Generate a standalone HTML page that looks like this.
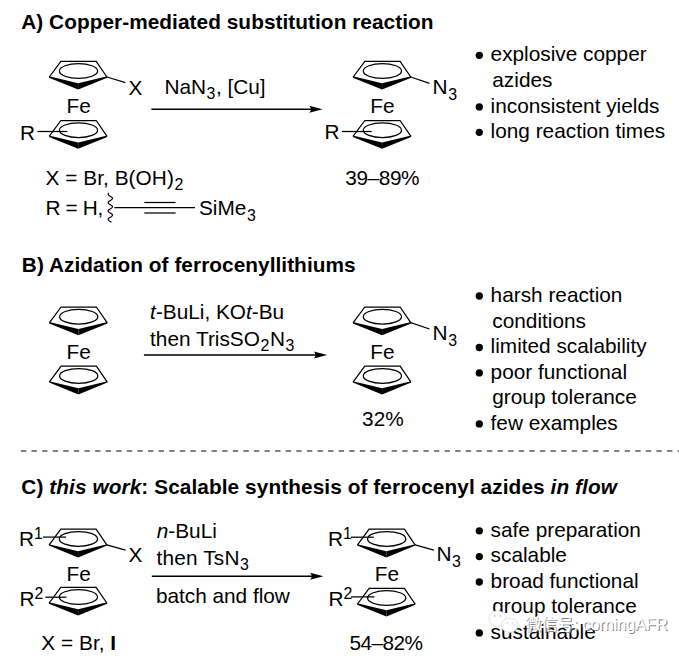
<!DOCTYPE html>
<html><head><meta charset="utf-8"><title>Ferrocenyl azides</title>
<style>
html,body{margin:0;padding:0;background:#fff;}
svg{display:block;}
svg text{font-family:"Liberation Sans","Noto Sans CJK SC",sans-serif;fill:#000;}
</style></head><body>
<svg width="679" height="665" viewBox="0 0 679 665">
<rect width="679" height="665" fill="#fff"/>
<text x="21.2" y="28.8" font-size="20.8" font-weight="bold" textLength="412.3" lengthAdjust="spacing">A) Copper-mediated substitution reaction</text>
<polyline points="49.3,77.0 60.9,61.3 96.2,61.3 106.9,77.0" fill="none" stroke="#000" stroke-width="1.25" stroke-linejoin="miter"/>
<polygon points="49.0,76.3 78.2,83.3 78.2,89.6 49.0,77.7" fill="#000"/>
<polygon points="107.2,76.3 78.2,83.3 78.2,89.6 107.2,77.7" fill="#000"/>
<ellipse cx="78.5" cy="71.0" rx="19.1" ry="7.4" fill="none" stroke="#000" stroke-width="1.25"/>
<polyline points="49.3,136.2 60.9,120.5 96.2,120.5 106.9,136.2" fill="none" stroke="#000" stroke-width="1.25" stroke-linejoin="miter"/>
<polygon points="49.0,135.5 78.2,142.5 78.2,148.8 49.0,136.9" fill="#000"/>
<polygon points="107.2,135.5 78.2,142.5 78.2,148.8 107.2,136.9" fill="#000"/>
<ellipse cx="78.5" cy="130.2" rx="19.1" ry="7.4" fill="none" stroke="#000" stroke-width="1.25"/>
<line x1="106.9" y1="77" x2="125.4" y2="82.7" stroke="#000" stroke-width="1.25"/>
<text x="128.5" y="94.5" font-size="20.8">X</text>
<text x="66.6" y="113.4" font-size="20.8">Fe</text>
<text x="20.1" y="140.0" font-size="20.8">R</text>
<line x1="37.4" y1="131.5" x2="67.4" y2="131.5" stroke="#000" stroke-width="1.25"/>
<text x="164.4" y="94.4" font-size="20.8">NaN<tspan font-size="15.9" dy="5.0" dx="0.5">3</tspan><tspan dy="-5.0" dx="0.7" font-size="20.8">&#8203;</tspan>,<tspan dx="-0.2"> [Cu]</tspan></text>
<line x1="151.4" y1="109.3" x2="316.6" y2="109.3" stroke="#000" stroke-width="1.45"/>
<path d="M322.6,109.3 L309.3,105.85 Q312.6,109.3 309.3,112.75 Z" fill="#000"/>
<polyline points="353.2,77.0 364.8,61.3 400.1,61.3 410.8,77.0" fill="none" stroke="#000" stroke-width="1.25" stroke-linejoin="miter"/>
<polygon points="352.9,76.3 382.1,83.3 382.1,89.6 352.9,77.7" fill="#000"/>
<polygon points="411.1,76.3 382.1,83.3 382.1,89.6 411.1,77.7" fill="#000"/>
<ellipse cx="382.4" cy="71.0" rx="19.1" ry="7.4" fill="none" stroke="#000" stroke-width="1.25"/>
<polyline points="353.2,136.2 364.8,120.5 400.1,120.5 410.8,136.2" fill="none" stroke="#000" stroke-width="1.25" stroke-linejoin="miter"/>
<polygon points="352.9,135.5 382.1,142.5 382.1,148.8 352.9,136.9" fill="#000"/>
<polygon points="411.1,135.5 382.1,142.5 382.1,148.8 411.1,136.9" fill="#000"/>
<ellipse cx="382.4" cy="130.2" rx="19.1" ry="7.4" fill="none" stroke="#000" stroke-width="1.25"/>
<line x1="410.8" y1="77" x2="429.5" y2="83.3" stroke="#000" stroke-width="1.25"/>
<text x="432.6" y="94.3" font-size="20.8">N<tspan font-size="15.9" dy="5.4" dx="0.5">3</tspan><tspan dy="-5.4" dx="0.7" font-size="20.8">&#8203;</tspan></text>
<text x="370.2" y="113.4" font-size="20.8">Fe</text>
<text x="324.6" y="138.6" font-size="20.8">R</text>
<line x1="342" y1="131.5" x2="371.7" y2="131.5" stroke="#000" stroke-width="1.25"/>
<text x="345.3" y="184.8" font-size="20.8" textLength="74.3" lengthAdjust="spacing">39–89%</text>
<text x="45.4" y="185.2" font-size="20.8" textLength="138.6" lengthAdjust="spacing">X = Br, B(OH)<tspan font-size="15.9" dy="5.0" dx="0.5">2</tspan><tspan dy="-5.0" dx="0.7" font-size="20.8">&#8203;</tspan></text>
<text x="45.4" y="215.3" font-size="20.8" textLength="57.9" lengthAdjust="spacing">R = H,</text>
<polyline points="108.39,193.40 108.12,193.90 108.16,194.40 108.48,194.90 109.06,195.40 109.81,195.90 110.63,196.40 111.40,196.90 112.02,197.40 112.40,197.90 112.49,198.40 112.28,198.90 111.80,199.40 111.10,199.90 110.30,200.40 109.50,200.90 108.80,201.40 108.32,201.90 108.11,202.40 108.20,202.90 108.58,203.40 109.20,203.90 109.97,204.40 110.79,204.90 111.54,205.40 112.12,205.90 112.44,206.40 112.48,206.90 112.21,207.40 111.67,207.90 110.95,208.40 110.14,208.90 109.35,209.40 108.69,209.90 108.25,210.40 108.10,210.90 108.25,211.40 108.69,211.90 109.35,212.40 110.14,212.90 110.95,213.40 111.67,213.90 112.21,214.40 112.48,214.90 112.44,215.40 112.12,215.90 111.54,216.40 110.79,216.90 109.97,217.40 109.20,217.90 108.58,218.40 108.20,218.90 108.11,219.40 108.32,219.90 108.80,220.40 109.50,220.90 110.30,221.40 111.10,221.90" fill="none" stroke="#000" stroke-width="1.2" stroke-linecap="round"/>
<line x1="114.3" y1="207.7" x2="195" y2="207.7" stroke="#000" stroke-width="1.25"/>
<line x1="144.3" y1="202.5" x2="175.6" y2="202.5" stroke="#000" stroke-width="1.25"/>
<line x1="144.3" y1="213.0" x2="175.6" y2="213.0" stroke="#000" stroke-width="1.25"/>
<text x="199.0" y="215.4" font-size="20.8">SiMe<tspan font-size="15.9" dy="5.2" dx="0.5">3</tspan><tspan dy="-5.2" dx="0.7" font-size="20.8">&#8203;</tspan></text>
<text x="490.6" y="61.099999999999994" font-size="20.8">explosive copper</text>
<text x="492.3" y="86.89999999999999" font-size="20.8">azides</text>
<text x="490.6" y="112.7" font-size="20.8">inconsistent yields</text>
<text x="490.6" y="138.10000000000002" font-size="20.8">long reaction times</text>
<circle cx="479.3" cy="55.3" r="3.65" fill="#000"/>
<circle cx="479.3" cy="106.9" r="3.65" fill="#000"/>
<circle cx="479.3" cy="132.3" r="3.65" fill="#000"/>
<text x="21.8" y="272.2" font-size="20.8" font-weight="bold" textLength="333.8" lengthAdjust="spacing">B) Azidation of ferrocenyllithiums</text>
<polyline points="49.5,322.7 61.1,307.0 96.4,307.0 107.1,322.7" fill="none" stroke="#000" stroke-width="1.25" stroke-linejoin="miter"/>
<polygon points="49.2,322.0 78.4,329.0 78.4,335.3 49.2,323.4" fill="#000"/>
<polygon points="107.4,322.0 78.4,329.0 78.4,335.3 107.4,323.4" fill="#000"/>
<ellipse cx="78.7" cy="316.7" rx="19.1" ry="7.4" fill="none" stroke="#000" stroke-width="1.25"/>
<polyline points="49.5,381.9 61.1,366.2 96.4,366.2 107.1,381.9" fill="none" stroke="#000" stroke-width="1.25" stroke-linejoin="miter"/>
<polygon points="49.2,381.2 78.4,388.2 78.4,394.5 49.2,382.6" fill="#000"/>
<polygon points="107.4,381.2 78.4,388.2 78.4,394.5 107.4,382.6" fill="#000"/>
<ellipse cx="78.7" cy="375.9" rx="19.1" ry="7.4" fill="none" stroke="#000" stroke-width="1.25"/>
<text x="66.6" y="359.1" font-size="20.8">Fe</text>
<text x="150.1" y="318.5" font-size="20.8"><tspan font-style="italic">t</tspan>-BuLi, KO<tspan font-style="italic">t</tspan>-Bu</text>
<text x="150.1" y="345.7" font-size="20.8">then TrisSO<tspan font-size="15.9" dy="5.0" dx="0.5">2</tspan><tspan dy="-5.0" dx="0.7" font-size="20.8">&#8203;</tspan>N<tspan font-size="15.9" dy="5.0" dx="0.5">3</tspan><tspan dy="-5.0" dx="0.7" font-size="20.8">&#8203;</tspan></text>
<line x1="143.9" y1="355" x2="321.20000000000005" y2="355" stroke="#000" stroke-width="1.45"/>
<path d="M327.2,355 L313.9,351.55 Q317.2,355 313.9,358.45 Z" fill="#000"/>
<polyline points="353.2,322.7 364.8,307.0 400.1,307.0 410.8,322.7" fill="none" stroke="#000" stroke-width="1.25" stroke-linejoin="miter"/>
<polygon points="352.9,322.0 382.1,329.0 382.1,335.3 352.9,323.4" fill="#000"/>
<polygon points="411.1,322.0 382.1,329.0 382.1,335.3 411.1,323.4" fill="#000"/>
<ellipse cx="382.4" cy="316.7" rx="19.1" ry="7.4" fill="none" stroke="#000" stroke-width="1.25"/>
<polyline points="353.2,381.9 364.8,366.2 400.1,366.2 410.8,381.9" fill="none" stroke="#000" stroke-width="1.25" stroke-linejoin="miter"/>
<polygon points="352.9,381.2 382.1,388.2 382.1,394.5 352.9,382.6" fill="#000"/>
<polygon points="411.1,381.2 382.1,388.2 382.1,394.5 411.1,382.6" fill="#000"/>
<ellipse cx="382.4" cy="375.9" rx="19.1" ry="7.4" fill="none" stroke="#000" stroke-width="1.25"/>
<line x1="410.8" y1="322.7" x2="429.5" y2="329.0" stroke="#000" stroke-width="1.25"/>
<text x="432.6" y="340.3" font-size="20.8">N<tspan font-size="15.9" dy="5.4" dx="0.5">3</tspan><tspan dy="-5.4" dx="0.7" font-size="20.8">&#8203;</tspan></text>
<text x="370.2" y="359.4" font-size="20.8">Fe</text>
<text x="362.1" y="426" font-size="20.8">32%</text>
<text x="490.6" y="301.8" font-size="20.8">harsh reaction</text>
<text x="492.3" y="327.6" font-size="20.8">conditions</text>
<text x="490.6" y="353.3" font-size="20.8">limited scalability</text>
<text x="490.6" y="378.7" font-size="20.8">poor functional</text>
<text x="492.3" y="404.3" font-size="20.8">group tolerance</text>
<text x="490.6" y="429.7" font-size="20.8">few examples</text>
<circle cx="479.3" cy="296.0" r="3.65" fill="#000"/>
<circle cx="479.3" cy="347.5" r="3.65" fill="#000"/>
<circle cx="479.3" cy="372.9" r="3.65" fill="#000"/>
<circle cx="479.3" cy="423.9" r="3.65" fill="#000"/>
<line x1="20.9" y1="450.9" x2="679" y2="450.9" stroke="#5a5a5a" stroke-width="1.5" stroke-dasharray="5.4 5.192"/>
<text x="21.3" y="493.6" font-size="20.8" font-weight="bold" textLength="595.6" lengthAdjust="spacing">C) <tspan font-style="italic">this work</tspan>: Scalable synthesis of ferrocenyl azides <tspan font-style="italic">in flow</tspan></text>
<polyline points="49.2,544.9 60.8,529.2 96.1,529.2 106.8,544.9" fill="none" stroke="#000" stroke-width="1.25" stroke-linejoin="miter"/>
<polygon points="48.9,544.2 78.1,551.2 78.1,557.5 48.9,545.6" fill="#000"/>
<polygon points="107.1,544.2 78.1,551.2 78.1,557.5 107.1,545.6" fill="#000"/>
<ellipse cx="78.4" cy="538.9" rx="19.1" ry="7.4" fill="none" stroke="#000" stroke-width="1.25"/>
<polyline points="49.2,603.0 60.8,587.3 96.1,587.3 106.8,603.0" fill="none" stroke="#000" stroke-width="1.25" stroke-linejoin="miter"/>
<polygon points="48.9,602.3 78.1,609.3 78.1,615.6 48.9,603.7" fill="#000"/>
<polygon points="107.1,602.3 78.1,609.3 78.1,615.6 107.1,603.7" fill="#000"/>
<ellipse cx="78.4" cy="597.0" rx="19.1" ry="7.4" fill="none" stroke="#000" stroke-width="1.25"/>
<line x1="106.8" y1="544.9" x2="125.5" y2="550.2" stroke="#000" stroke-width="1.25"/>
<text x="128.5" y="562.1" font-size="20.8">X</text>
<text x="66.5" y="580.9" font-size="20.8">Fe</text>
<text x="18.9" y="545.7" font-size="20.8">R<tspan font-size="15.9" dy="-6.8">1</tspan><tspan dy="6.8" font-size="20.8">&#8203;</tspan></text>
<text x="19.5" y="605.9" font-size="20.8">R<tspan font-size="15.9" dy="-6.8">2</tspan><tspan dy="6.8" font-size="20.8">&#8203;</tspan></text>
<line x1="43" y1="537.1" x2="66" y2="537.1" stroke="#000" stroke-width="1.25"/>
<line x1="45.3" y1="597.2" x2="66.5" y2="597.2" stroke="#000" stroke-width="1.25"/>
<text x="41.3" y="650.0" font-size="20.8" textLength="74.8" lengthAdjust="spacing">X = Br, <tspan font-weight="bold">I</tspan></text>
<text x="156.7" y="537.6" font-size="20.8"><tspan font-style="italic">n</tspan>-BuLi</text>
<text x="156.6" y="564.6" font-size="20.8" textLength="93.2" lengthAdjust="spacing">then TsN<tspan font-size="15.9" dy="5.0" dx="0.5">3</tspan><tspan dy="-5.0" dx="0.7" font-size="20.8">&#8203;</tspan></text>
<line x1="151.8" y1="576.3" x2="317.40000000000003" y2="576.3" stroke="#000" stroke-width="1.45"/>
<path d="M323.4,576.3 L310.1,572.85 Q313.4,576.3 310.1,579.75 Z" fill="#000"/>
<text x="155.9" y="602.5" font-size="20.8" textLength="134" lengthAdjust="spacing">batch and flow</text>
<polyline points="357.5,544.9 369.1,529.2 404.4,529.2 415.1,544.9" fill="none" stroke="#000" stroke-width="1.25" stroke-linejoin="miter"/>
<polygon points="357.2,544.2 386.4,551.2 386.4,557.5 357.2,545.6" fill="#000"/>
<polygon points="415.4,544.2 386.4,551.2 386.4,557.5 415.4,545.6" fill="#000"/>
<ellipse cx="386.7" cy="538.9" rx="19.1" ry="7.4" fill="none" stroke="#000" stroke-width="1.25"/>
<polyline points="357.5,604.0 369.1,588.3 404.4,588.3 415.1,604.0" fill="none" stroke="#000" stroke-width="1.25" stroke-linejoin="miter"/>
<polygon points="357.2,603.3 386.4,610.3 386.4,616.6 357.2,604.7" fill="#000"/>
<polygon points="415.4,603.3 386.4,610.3 386.4,616.6 415.4,604.7" fill="#000"/>
<ellipse cx="386.7" cy="598.0" rx="19.1" ry="7.4" fill="none" stroke="#000" stroke-width="1.25"/>
<line x1="415.1" y1="544.9" x2="433.9" y2="550.2" stroke="#000" stroke-width="1.25"/>
<text x="436.5" y="561.3" font-size="20.8">N<tspan font-size="15.9" dy="5.4" dx="0.5">3</tspan><tspan dy="-5.4" dx="0.7" font-size="20.8">&#8203;</tspan></text>
<text x="374.8" y="581.0" font-size="20.8">Fe</text>
<text x="328.0" y="545.8" font-size="20.8">R<tspan font-size="15.9" dy="-6.8">1</tspan><tspan dy="6.8" font-size="20.8">&#8203;</tspan></text>
<text x="328.4" y="605.7" font-size="20.8">R<tspan font-size="15.9" dy="-6.8">2</tspan><tspan dy="6.8" font-size="20.8">&#8203;</tspan></text>
<line x1="350.9" y1="537.2" x2="373.8" y2="537.2" stroke="#000" stroke-width="1.25"/>
<line x1="350.9" y1="596.9" x2="374.5" y2="596.9" stroke="#000" stroke-width="1.25"/>
<text x="349.5" y="650.0" font-size="20.8" textLength="73.6" lengthAdjust="spacing">54–82%</text>
<text x="490.6" y="536.5999999999999" font-size="20.8">safe preparation</text>
<text x="490.6" y="562.4" font-size="20.8">scalable</text>
<text x="490.6" y="587.8" font-size="20.8">broad functional</text>
<text x="492.3" y="613.3" font-size="20.8">group tolerance</text>
<text x="490.6" y="638.6999999999999" font-size="20.8">sustainable</text>
<circle cx="479.3" cy="530.8" r="3.65" fill="#000"/>
<circle cx="479.3" cy="556.6" r="3.65" fill="#000"/>
<circle cx="479.3" cy="582.0" r="3.65" fill="#000"/>
<circle cx="479.3" cy="632.9" r="3.65" fill="#000"/>
<g font-family="'Liberation Sans', 'Noto Sans CJK SC', sans-serif" font-size="16.2">
<g fill="#fff" stroke="#dcdcdc" stroke-width="0.8"><ellipse cx="497.4" cy="618.6" rx="8.4" ry="7.8"/><ellipse cx="509.6" cy="625.2" rx="8.4" ry="7.2"/></g>
<g fill="#cfcfcf"><circle cx="494.6" cy="616" r="1.1"/><circle cx="500.4" cy="616" r="1.1"/><circle cx="507.2" cy="622.8" r="0.8"/><circle cx="512.4" cy="622.8" r="0.8"/></g>
<text x="526.1" y="630.8" fill="#858585" style="fill:#858585" textLength="142.5" lengthAdjust="spacing">微信号: corningAFR</text>
<text x="525.0" y="629.8" fill="#fff" stroke="#fff" stroke-width="0.2" style="fill:#fff" textLength="142.5" lengthAdjust="spacing">微信号: corningAFR</text>
</g>
</svg>
</body></html>
